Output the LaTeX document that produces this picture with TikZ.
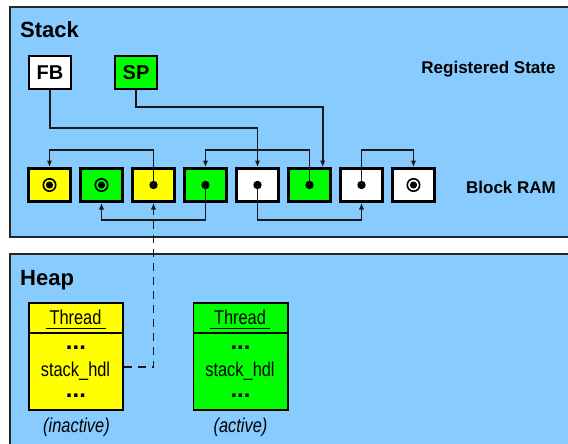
\documentclass[tikz,border=0pt]{standalone}
\usepackage{fontspec}
\setmainfont{Liberation Sans}
\newfontfamily\narrowf[FakeStretch=0.82]{Liberation Sans}
\usetikzlibrary{arrows.meta,calc}
\definecolor{panel}{RGB}{136,204,255}
\definecolor{vgreen}{RGB}{0,255,0}
\definecolor{vyellow}{RGB}{255,255,0}
\begin{document}
\begin{tikzpicture}[x=1pt,y=-1pt,
  panelbox/.style={draw=black!85, fill=panel, line width=1.2pt},
  title/.style={font=\bfseries\fontsize{22}{26}\selectfont, anchor=base west, inner sep=0},
  side/.style={font=\bfseries\fontsize{17}{20}\selectfont, anchor=base, inner sep=0},
  cell/.style={draw, line width=2.9pt, minimum width=42.1pt, minimum height=33.1pt, inner sep=0},
  reg/.style={draw, line width=1.6pt, minimum width=42.4pt, minimum height=33.4pt, inner sep=0, font=\bfseries\fontsize{20}{24}\selectfont},
  conn/.style={line width=1.6pt, draw=black!90, -{Latex[length=6.5pt,width=5.5pt]}},
  dashconn/.style={line width=1.6pt, draw=black!90, dash pattern=on 8pt off 6pt, -{Latex[length=6.5pt,width=5.5pt]}},
  objbox/.style={draw, line width=1.6pt, minimum width=94.4pt, minimum height=107.4pt, inner sep=0},
  narrowtxt/.style={font=\narrowf\fontsize{20}{24}\selectfont, anchor=base, inner sep=0},
  dotstxt/.style={font=\bfseries\fontsize{24}{26}\selectfont, anchor=base, inner sep=0},
]
\useasboundingbox (0,0) rectangle (568,444);
% panels
\draw[panelbox] (10,7) rectangle (620,237);
\draw[panelbox] (10,254) rectangle (620,500);
\node[title] (stacklbl) at (20,38) {Stack};
\node[title] (heaplbl) at (20,285) {Heap};
\node[side] (regst) at (488.5,73.3) {Registered State};
\node[side] (bram) at (511,193.3) {Block RAM};
% registers
\node[reg, fill=white] (fb) at (50,72.5) {FB};
\node[reg, fill=vgreen] (sp) at (136,72.5) {SP};
% cells
\node[cell, fill=vyellow] (c0) at (49.5,185) {};
\node[cell, fill=vgreen]  (c1) at (101.5,185) {};
\node[cell, fill=vyellow] (c2) at (153.5,185) {};
\node[cell, fill=vgreen]  (c3) at (205.5,185) {};
\node[cell, fill=white]   (c4) at (257.5,185) {};
\node[cell, fill=vgreen]  (c5) at (309.5,185) {};
\node[cell, fill=white]   (c6) at (361.5,185) {};
\node[cell, fill=white]   (c7) at (413.5,185) {};
% targets
\foreach \c in {c0,c1,c7}{
  \draw[line width=1.6pt] (\c.center) circle (6.2pt);
  \fill (\c.center) circle (3.6pt);
}
\foreach \c in {c2,c3,c4,c5,c6}{
  \fill (\c.center) circle (4.2pt);
}
% connector bends
\coordinate (u2) at (153.5,150);
\coordinate (u5) at (309.5,150);
\coordinate (u6) at (361.5,150);
\coordinate (kfb) at (257.5,128);
\coordinate (ksp) at (322.7,107);
\coordinate (l3) at (205.5,220);
\coordinate (l4) at (257.5,220);
\draw[conn] (c2.center) -- (u2) -| (c0.north);
\draw[conn] (c5.center) -- (u5) -| (c3.north);
\draw[conn] (c6.center) -- (u6) -| (c7.north);
\draw[conn] (fb.south) |- (kfb) -- (c4.north);
\draw[conn] (sp.south) |- (ksp) -- (ksp |- c5.north);
\draw[conn] (c3.center) -- (l3) -| (c1.south);
\draw[conn] (c4.center) -- (l4) -| (c6.south);
% heap objects
\node[objbox, fill=vyellow] (o1) at (76,356.5) {};
\node[objbox, fill=vgreen] (o2) at (240.5,356.5) {};
\coordinate (hdiv) at (0,333);
\draw[line width=1.6pt] (o1.west |- hdiv) -- (o1.east |- hdiv);
\draw[line width=1.6pt] (o2.west |- hdiv) -- (o2.east |- hdiv);
\node[narrowtxt] (th1) at (75.5,324.3) {Thread};
\node[narrowtxt] (th2) at (240,324.3) {Thread};
\draw[line width=1pt] ($(th1.base)+(-30,4)$) -- ($(th1.base)+(30,4)$);
\draw[line width=1pt] ($(th2.base)+(-30,4)$) -- ($(th2.base)+(30,4)$);
\node[dotstxt] (d1a) at (76,349.5) {...};
\node[dotstxt] (d1b) at (76,397.7) {...};
\node[dotstxt] (d2a) at (240.5,349.5) {...};
\node[dotstxt] (d2b) at (240.5,397.7) {...};
\node[narrowtxt] (h1) at (75.5,376.5) {stack\_hdl};
\node[narrowtxt] (h2) at (240,376.5) {stack\_hdl};
\node[narrowtxt, font=\narrowf\itshape\fontsize{20}{24}\selectfont] (st1) at (76.5,432) {(inactive)};
\node[narrowtxt, font=\narrowf\itshape\fontsize{20}{24}\selectfont] (st2) at (240.5,432) {(active)};
\coordinate (hy) at (0,367);
\draw[dashconn] (o1.east |- hy) -| (c2.south);
\end{tikzpicture}
\end{document}
